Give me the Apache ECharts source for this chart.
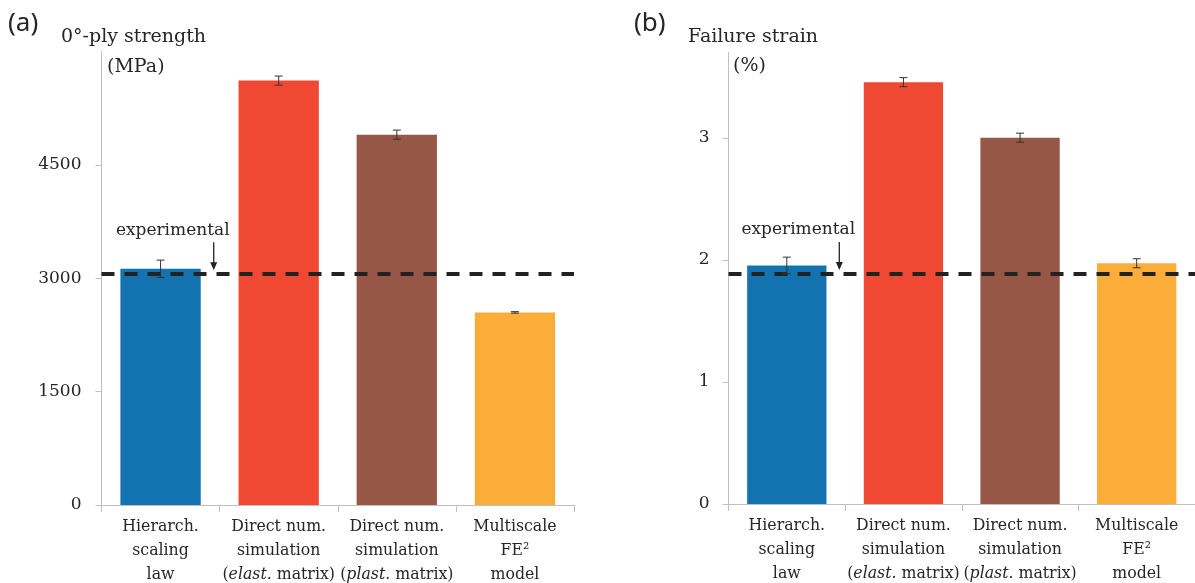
<!DOCTYPE html>
<html>
<head>
<meta charset="utf-8">
<script src="https://cdn.jsdelivr.net/npm/echarts@6/dist/echarts.min.js"></script>
<style>
  html, body { margin: 0; padding: 0; background: #fff; }
  #chart { width: 1195px; height: 583px; }
</style>
</head>
<body>
<div id="chart"></div>
<script>
// Methods compared (shared by both panels)
const categories = [
  'Hierarch.\nscaling\nlaw',
  'Direct num.\nsimulation\n(elast. matrix)',
  'Direct num.\nsimulation\n(plast. matrix)',
  'Multiscale\nFE²\nmodel'
];
const barColors = ['#1373b0', '#ef4934', '#975746', '#fbad3a'];

// (a) 0°-ply strength, MPa
const strengthValues = [3125, 5615, 4900, 2548];
const strengthErrors = [115, 60, 60, 10];
const strengthExperimental = 3065;
const strengthTicks = [0, 1500, 3000, 4500];

// (b) failure strain, %
const strainValues = [1.955, 3.457, 3.002, 1.973];
const strainErrors = [0.068, 0.037, 0.037, 0.037];
const strainExperimental = 1.893;
const strainTicks = [0, 1, 2, 3];

const SERIF = '"DejaVu Serif", "Liberation Serif", serif';
const SERIF_NARROW = '"DejaVu Serif Condensed", "DejaVu Serif", serif';
const TEXT = '#262626';
const AXIS = '#c0c0c0';

function labelFormatter(v) {
  return v.split('\n').map(function (line) {
    if (line.indexOf('elast.') >= 0) return '{n|(}{i|elast.}{n| matrix)}';
    if (line.indexOf('plast.') >= 0) return '{n|(}{i|plast.}{n| matrix)}';
    return '{n|' + line + '}';
  }).join('\n');
}

function xAxisFor(gridIndex) {
  return {
    type: 'category',
    gridIndex: gridIndex,
    data: categories,
    axisLine: { lineStyle: { color: AXIS, width: 1 } },
    axisTick: { show: true, length: 7, lineStyle: { color: AXIS } },
    axisLabel: {
      margin: 9,
      interval: 0,
      formatter: labelFormatter,
      rich: {
        n: { fontFamily: SERIF_NARROW, fontSize: 17.5, color: TEXT, lineHeight: 24 },
        i: { fontFamily: SERIF_NARROW, fontSize: 17.5, color: TEXT, lineHeight: 24, fontStyle: 'italic' }
      }
    },
    splitLine: { show: false }
  };
}

function yAxisFor(gridIndex, max, interval, ticks, margin) {
  return {
    type: 'value',
    gridIndex: gridIndex,
    min: 0,
    max: max,
    interval: interval,
    axisLine: { show: true, lineStyle: { color: AXIS, width: 1 } },
    axisTick: { show: true, length: 6, lineStyle: { color: AXIS }, customValues: ticks },
    axisLabel: {
      margin: margin,
      fontFamily: SERIF,
      fontSize: 17,
      color: TEXT,
      customValues: ticks,
      formatter: function (v) { return String(v); }
    },
    splitLine: { show: false }
  };
}

function barSeries(axisIndex, values, expValue) {
  return {
    type: 'bar',
    xAxisIndex: axisIndex,
    yAxisIndex: axisIndex,
    barCategoryGap: '32%',
    silent: true,
    data: values.map(function (v, i) {
      return { value: v, itemStyle: { color: barColors[i] } };
    }),
    markLine: {
      silent: true,
      symbol: ['none', 'none'],
      label: { show: false },
      lineStyle: { color: '#222', width: 4, type: [13, 10] },
      data: [{ yAxis: expValue }]
    },
    z: 2
  };
}

function errorSeries(axisIndex, values, errors) {
  return {
    type: 'custom',
    xAxisIndex: axisIndex,
    yAxisIndex: axisIndex,
    silent: true,
    data: values.map(function (v, i) { return [i, v, errors[i]]; }),
    encode: { x: 0, y: 1 },
    renderItem: function (params, api) {
      const i = api.value(0), v = api.value(1), e = api.value(2);
      const hi = api.coord([i, v + e]);
      const lo = api.coord([i, v - e]);
      const half = 4;
      const style = { stroke: '#333', lineWidth: 1 };
      return {
        type: 'group',
        children: [
          { type: 'line', shape: { x1: hi[0], y1: hi[1], x2: lo[0], y2: lo[1] }, style: style },
          { type: 'line', shape: { x1: hi[0] - half, y1: hi[1], x2: hi[0] + half, y2: hi[1] }, style: style },
          { type: 'line', shape: { x1: lo[0] - half, y1: lo[1], x2: lo[0] + half, y2: lo[1] }, style: style }
        ]
      };
    },
    z: 5
  };
}

// "experimental" note with an arrow pointing down onto the reference line
function noteSeries(axisIndex, expValue) {
  return {
    type: 'custom',
    xAxisIndex: axisIndex,
    yAxisIndex: axisIndex,
    silent: true,
    data: [[0, expValue]],
    encode: { x: 0, y: 1 },
    renderItem: function (params, api) {
      const p = api.coord([0, api.value(1)]);
      const band = api.size([1, 0])[0];
      const x = p[0] + 0.45 * band;
      const y = p[1];
      return {
        type: 'group',
        children: [
          {
            type: 'text',
            style: {
              x: x - 41, y: y - 43, text: 'experimental',
              font: '17px ' + SERIF, fill: TEXT,
              align: 'center', verticalAlign: 'middle'
            }
          },
          { type: 'line', shape: { x1: x, y1: y - 31, x2: x, y2: y - 9 }, style: { stroke: '#222', lineWidth: 1.3 } },
          { type: 'polygon', shape: { points: [[x - 3.5, y - 11], [x + 3.5, y - 11], [x, y - 3]] }, style: { fill: '#222' } }
        ]
      };
    },
    z: 6
  };
}

function panelText(x, y, text, font) {
  return {
    type: 'text', x: x, y: y,
    style: { text: text, font: font, fill: TEXT, align: 'left', verticalAlign: 'middle' }
  };
}

const chart = echarts.init(document.getElementById('chart'), null, { renderer: 'canvas' });
chart.setOption({
  animation: false,
  backgroundColor: '#ffffff',
  grid: [
    { left: 101.5, top: 51.5, width: 472.5, height: 453.5 },
    { left: 728.5, top: 52.5, width: 471, height: 451.5 }
  ],
  xAxis: [xAxisFor(0), xAxisFor(1)],
  yAxis: [
    yAxisFor(0, 6000, 1500, strengthTicks, 20),
    yAxisFor(1, 3.7, 1, strainTicks, 19)
  ],
  series: [
    barSeries(0, strengthValues, strengthExperimental),
    errorSeries(0, strengthValues, strengthErrors),
    noteSeries(0, strengthExperimental),
    barSeries(1, strainValues, strainExperimental),
    errorSeries(1, strainValues, strainErrors),
    noteSeries(1, strainExperimental)
  ],
  graphic: [
    panelText(8, 24, '(a)', '26px "Noto Sans", "Open Sans", sans-serif'),
    panelText(61, 37, '0°-ply strength', '19px ' + SERIF),
    panelText(107, 67.5, '(MPa)', '19px ' + SERIF),
    panelText(634, 24, '(b)', '26px "Noto Sans", "Open Sans", sans-serif'),
    panelText(688, 37, 'Failure strain', '19px ' + SERIF),
    panelText(733, 66, '(%)', '19px ' + SERIF)
  ]
});
</script>
</body>
</html>
